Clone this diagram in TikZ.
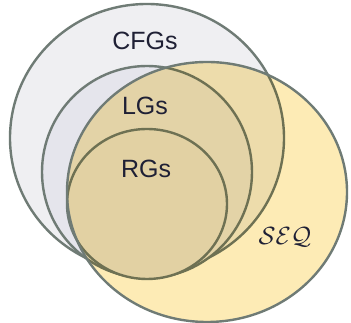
\documentclass[tikz,border=0pt]{standalone}
\usepackage{fontspec}
\setmainfont{Liberation Sans}
\begin{document}
\begin{tikzpicture}[x=1pt,y=1pt,
  ring/.style={draw=edgegray,line width=2.4pt},
  lbl/.style={text=labelblue,font=\fontsize{25}{25}\selectfont,inner sep=0pt}]
\definecolor{edgegray}{HTML}{6F7B75}
\definecolor{cfgfill}{HTML}{EFEFF2}
\definecolor{lgfill}{HTML}{E5E5EC}
\definecolor{rgfill}{HTML}{E4E3E6}
\definecolor{seqfill}{HTML}{FDEBB5}
\definecolor{labelblue}{HTML}{1F2035}
\useasboundingbox (0,0) rectangle (351,323);
\fill[white] (0,0) rectangle (351,323);
% CFGs
\path[ring,fill=cfgfill] (147,185) ellipse [x radius=137,y radius=134];
\path[ring,fill=lgfill] (147,151) ellipse [x radius=105,y radius=106];
\path[ring,fill=rgfill] (147,119) ellipse [x radius=80,y radius=75];
% SEQ overlay
\begin{scope}[blend mode=multiply]
\fill[seqfill] (207,131) ellipse [x radius=140,y radius=130];
\end{scope}
\draw[draw=edgegray,line width=2.4pt] (207,131) ellipse [x radius=140,y radius=130];
\node[lbl] (cfg) at (145,282) {CFGs};
\node[lbl] (lg) at (145,217) {LGs};
\node[lbl] (rg) at (146,154) {RGs};
\node[text=labelblue,font=\fontsize{23}{23}\selectfont,inner sep=0pt] (seq) at (285,86) {$\mathcal{SEQ}$};
\end{tikzpicture}
\end{document}
